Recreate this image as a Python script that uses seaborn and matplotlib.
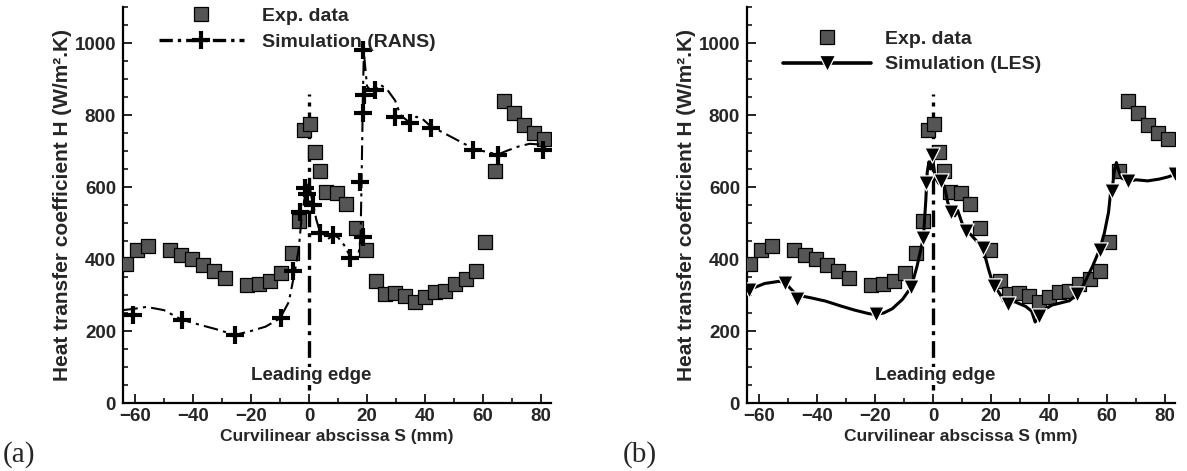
import numpy as np
import pandas as pd
import seaborn as sns
import matplotlib.pyplot as plt
from matplotlib.lines import Line2D
from matplotlib.ticker import MultipleLocator

# ---- experimental heat transfer coefficient (same measurements on both panels)
exp_S = [-63.2, -59.4, -55.6, -47.9, -44.0, -40.2, -36.5, -32.7, -28.9, -21.2,
         -17.4, -13.5, -9.7, -6.0, -3.6, -1.7, 0.3, 1.9, 3.7, 6.0,
         9.5, 12.9, 16.1, 19.5, 23.0, 26.3, 29.8, 33.2, 36.7, 40.1,
         43.3, 46.7, 50.2, 54.0, 57.4, 60.8, 64.0, 67.3, 70.8, 74.2,
         77.5, 81.0]
exp_H = [385, 425, 435, 426, 412, 400, 382, 366, 348, 328,
         330, 340, 362, 418, 505, 757, 775, 696, 645, 585,
         583, 553, 485, 425, 340, 304, 305, 297, 281, 295,
         308, 312, 330, 344, 366, 446, 645, 838, 805, 773,
         749, 732]

# ---- RANS simulation curve
rans_S = [-64, -60, -56, -50, -44, -38, -32, -25.5, -20, -15,
          -10, -7, -5, -3.5, -2.5, -1.5, -0.8, 0, 0.8, 1.5,
          2.5, 3.8, 5, 6.5, 8.4, 10, 12, 14, 15.5, 16.8,
          17.4, 17.8, 18.1, 18.4, 18.6, 18.9, 19.3, 20, 21, 22.8,
          24.5, 27, 29.7, 31.5, 33, 34.8, 37, 39, 42, 46,
          50, 54, 57, 61, 65, 68, 72, 76, 80, 82.5]
rans_H = [258, 262, 267, 258, 232, 218, 205, 189, 200, 212,
          235, 280, 360, 430, 520, 570, 600, 610, 575, 550,
          510, 475, 470, 455, 467, 460, 440, 410, 400, 405,
          430, 470, 610, 760, 860, 975, 940, 880, 870, 872,
          885, 870, 840, 800, 790, 778, 795, 790, 768, 752,
          735, 718, 705, 698, 690, 700, 712, 720, 718, 700]
# RANS symbols
rans_mk_S = [-60.6, -43.9, -25.5, -9.5, -5.5, -3.1, -1.4, -0.8, 1.5, 3.8,
             8.4, 14.1, 17.6, 18.5, 18.7, 18.5, 19.0, 22.8, 29.7, 34.8,
             42.0, 56.6, 65.0, 80.7]
rans_mk_H = [244, 230, 189, 235, 368, 530, 596, 580, 550, 472,
             467, 402, 615, 462, 805, 980, 855, 869, 795, 777,
             763, 703, 688, 703]

# ---- LES simulation curve
les_S = [-63.3, -58, -53, -51, -47, -42, -37, -32, -27, -22,
         -19.6, -17, -14, -10.5, -7.5, -5.5, -3.3, -2.5, -2, -1.4,
         -0.8, -0.2, 0.5, 1.2, 2.0, 2.9, 4.0, 5.0, 6.1, 7.5,
         8.5, 10, 11.3, 13, 15, 17.1, 18.2, 19.2, 20.9, 22.5,
         24, 25.7, 28, 30, 32, 34, 35.2, 36.7, 38.5, 41,
         44, 47, 49.7, 52, 55, 57.4, 59, 60.5, 61.2, 61.7,
         62.4, 63.2, 64, 65, 67.3, 70, 74, 78, 81, 83.4]
les_H = [315, 332, 338, 334, 300, 292, 283, 270, 258, 248,
         246, 250, 262, 288, 322, 380, 459, 560, 640, 670,
         650, 690, 640, 620, 610, 616, 600, 560, 531, 520,
         535, 500, 479, 468, 450, 431, 400, 370, 325, 310,
         290, 274, 282, 275, 268, 255, 225, 241, 260, 272,
         278, 284, 302, 330, 380, 426, 470, 530, 585, 588,
         640, 668, 645, 625, 616, 620, 617, 622, 628, 635]
# LES symbols
les_mk_S = [-63.3, -51, -46.7, -19.6, -7.5, -3.3, -2.4, -0.2, 2.8, 6.1,
            11.3, 17.1, 20.9, 25.7, 36.7, 49.7, 57.4, 61.7, 67.3, 83.4]
les_mk_H = [315, 334, 290, 246, 322, 459, 610, 690, 616, 531,
            479, 431, 325, 274, 241, 302, 426, 588, 616, 635]

# leading edge marker line
le_S = [0, 0]
le_H = [35, 858]

sns.set_theme(style="ticks")
plt.rcParams['font.family'] = ['Liberation Sans', 'DejaVu Sans']
plt.rcParams['font.weight'] = 'bold'

exp_df = pd.DataFrame({"S": exp_S, "H": exp_H})
rans_df = pd.DataFrame({"S": rans_S, "H": rans_H})
rans_mk = pd.DataFrame({"S": rans_mk_S, "H": rans_mk_H})
les_df = pd.DataFrame({"S": les_S, "H": les_H})
les_mk = pd.DataFrame({"S": les_mk_S, "H": les_mk_H})
le_df = pd.DataFrame({"S": le_S, "H": le_H})

W, H = 1187, 471
fig = plt.figure(figsize=(W / 100, H / 100), dpi=100)
axA = fig.add_axes([123 / W, 1 - 403 / H, 428 / W, 396 / H])
axB = fig.add_axes([747 / W, 1 - 403 / H, 428 / W, 396 / H])

SQ_COLOR = "#555555"
DASHDOT = (0, (7, 2.5, 1.5, 2.5))
FS = 12.5


def style_axes(ax):
    ax.set_xlim(-64.1, 83.4)
    ax.set_ylim(0, 1100)
    ax.xaxis.set_major_locator(MultipleLocator(20))
    ax.xaxis.set_minor_locator(MultipleLocator(10))
    ax.yaxis.set_major_locator(MultipleLocator(200))
    ax.yaxis.set_minor_locator(MultipleLocator(50))
    ax.tick_params(which='major', direction='in', length=6.5, width=1.2,
                   color='black', labelsize=13.5, pad=3.5)
    ax.tick_params(which='minor', direction='in', length=3.3, width=1.1,
                   color='black')
    ax.tick_params(axis='y', pad=5)
    for lab in ax.get_xticklabels() + ax.get_yticklabels():
        lab.set_fontweight('bold')
    sns.despine(ax=ax)
    for sp in ('left', 'bottom'):
        ax.spines[sp].set_linewidth(1.6)
        ax.spines[sp].set_color('black')
    ax.set_xlabel("Curvilinear abscissa S (mm)", fontsize=FS, fontweight='bold',
                  labelpad=3)
    ax.set_ylabel("Heat transfer coefficient H (W/m\u00b2.K)", fontsize=15,
                  fontweight='bold', labelpad=2)
    # leading edge
    sns.lineplot(data=le_df, x="S", y="H", ax=ax, color='black', lw=2.4,
                 linestyle=(0, (5, 1.8, 1.2, 1.8)), sort=False, estimator=None,
                 zorder=1)
    ax.text(0.8, 75, "Leading edge", ha='center', va='center', fontsize=13.5,
            fontweight='bold', zorder=2,
            bbox=dict(facecolor='white', edgecolor='none', pad=0.5))


# ---- panel (a): RANS
style_axes(axA)
sns.scatterplot(data=exp_df, x="S", y="H", ax=axA, marker='s', s=95,
                color=SQ_COLOR, edgecolor='black', linewidth=0.9, zorder=3)
sns.lineplot(data=rans_df, x="S", y="H", ax=axA, color='black', lw=1.5,
             linestyle=DASHDOT, sort=False, estimator=None, zorder=4)
sns.scatterplot(data=rans_mk, x="S", y="H", ax=axA, marker='+', s=170,
                color='black', linewidth=3.0, zorder=5)

# ---- panel (b): LES
style_axes(axB)
sns.scatterplot(data=exp_df, x="S", y="H", ax=axB, marker='s', s=95,
                color=SQ_COLOR, edgecolor='black', linewidth=0.9, zorder=3)
sns.lineplot(data=les_df, x="S", y="H", ax=axB, color='black', lw=2.2,
             sort=False, estimator=None, zorder=4)
sns.scatterplot(data=les_mk, x="S", y="H", ax=axB, marker='v', s=120,
                color='black', edgecolor='white', linewidth=0.9, zorder=5)

# ---- legends
sq_h = Line2D([], [], ls='none', marker='s', ms=10, mfc=SQ_COLOR, mec='black',
              mew=0.9)
rans_h = Line2D([], [], color='black', lw=2.4, ls=(0, (4, 1.5, 1, 1.5)),
                marker='+', ms=13, mew=3.0)
les_h = Line2D([], [], color='black', lw=2.6, marker='v', ms=11, mfc='black',
               mec='white', mew=0.9)
leg_font = dict(size=14, weight='bold')
axA.legend([sq_h, rans_h], ["Exp. data", "Simulation (RANS)"],
           loc='upper left', bbox_to_anchor=(0.084, 0.999), frameon=False,
           handlelength=4.35, handletextpad=0.97, labelspacing=0.42,
           borderpad=0, borderaxespad=0, prop=leg_font)
axB.legend([sq_h, les_h], ["Exp. data", "Simulation (LES)"],
           loc='upper left', bbox_to_anchor=(0.084, 0.942), frameon=False,
           handlelength=4.55, handletextpad=0.68, labelspacing=0.42,
           borderpad=0, borderaxespad=0, prop=leg_font)

# ---- panel tags
fig.text(3 / W, 1 - 455 / H, "(a)", family='Liberation Serif', fontsize=21,
         fontweight='normal', ha='left', va='center')
fig.text(623 / W, 1 - 455 / H, "(b)", family='Liberation Serif', fontsize=21,
         fontweight='normal', ha='left', va='center')

fig.savefig("out.png", dpi=100)
